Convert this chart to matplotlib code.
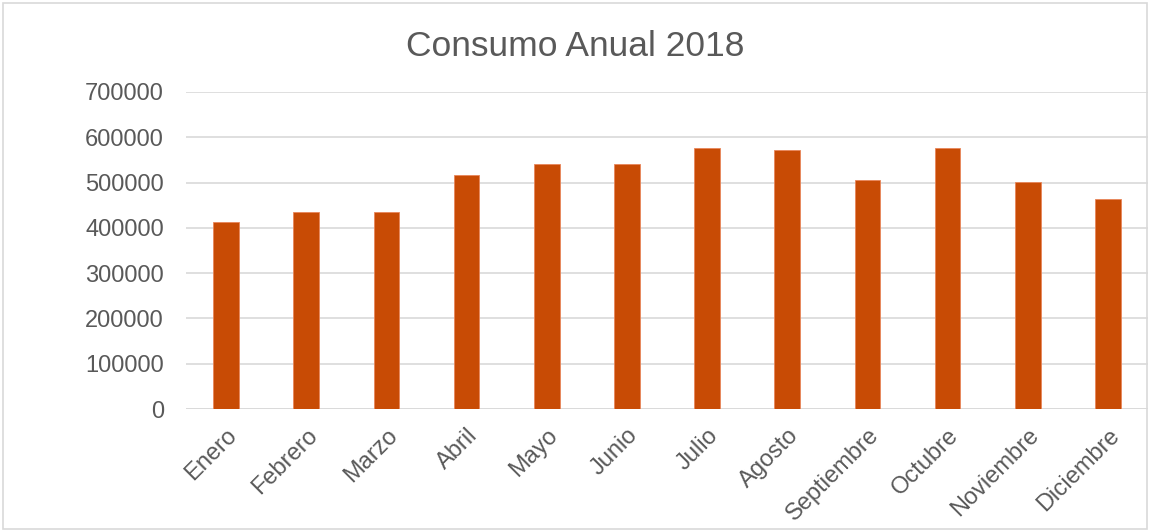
import matplotlib; matplotlib.use("Agg")
import matplotlib.pyplot as plt
from matplotlib.patches import Rectangle

meses = ["Enero", "Febrero", "Marzo", "Abril", "Mayo", "Junio", "Julio",
         "Agosto", "Septiembre", "Octubre", "Noviembre", "Diciembre"]
consumo = [412000, 434500, 434500, 517500, 540000, 540000, 576000,
           572500, 506000, 576000, 501000, 463500]
yticks = [0, 100000, 200000, 300000, 400000, 500000, 600000, 700000]

plt.rcParams["font.family"] = ["Liberation Sans", "DejaVu Sans"]
GRAY = "#595959"

fig = plt.figure(figsize=(11.5, 5.31), dpi=100)
ax = fig.add_axes([186/1150, 1-409/531, (1148-186)/1150, (409-92)/531])

ax.bar(range(len(meses)), consumo, width=0.32, color="#C84B05",
       edgecolor="#E8865A", linewidth=0.6, zorder=3)
ax.set_xlim(-0.5, len(meses)-0.5)
ax.set_ylim(0, 700000)
ax.set_yticks(yticks)
ax.set_yticklabels([str(v) for v in yticks], fontsize=17, color=GRAY)
ax.set_xticks(range(len(meses)))
ax.set_xticklabels(meses, rotation=45, ha="right", rotation_mode="anchor",
                   fontsize=17, color=GRAY)
ax.tick_params(axis="y", length=0, pad=16)
ax.tick_params(axis="x", length=0, pad=11)
ax.grid(axis="y", color="#D9D9D9", linewidth=1.2, zorder=0)
for s in ax.spines.values():
    s.set_visible(False)
ax.axhline(0, color="#D9D9D9", linewidth=1.2, zorder=2)

fig.text(0.5, 1-47/531, "Consumo Anual 2018", ha="center", va="center",
         fontsize=25.5, color=GRAY)
fig.patches.append(Rectangle((3/1150, 2/531), 1144/1150, 526/531, transform=fig.transFigure,
                             fill=False, edgecolor="#D9D9D9", linewidth=1.2))

fig.savefig("out.png", dpi=100)
